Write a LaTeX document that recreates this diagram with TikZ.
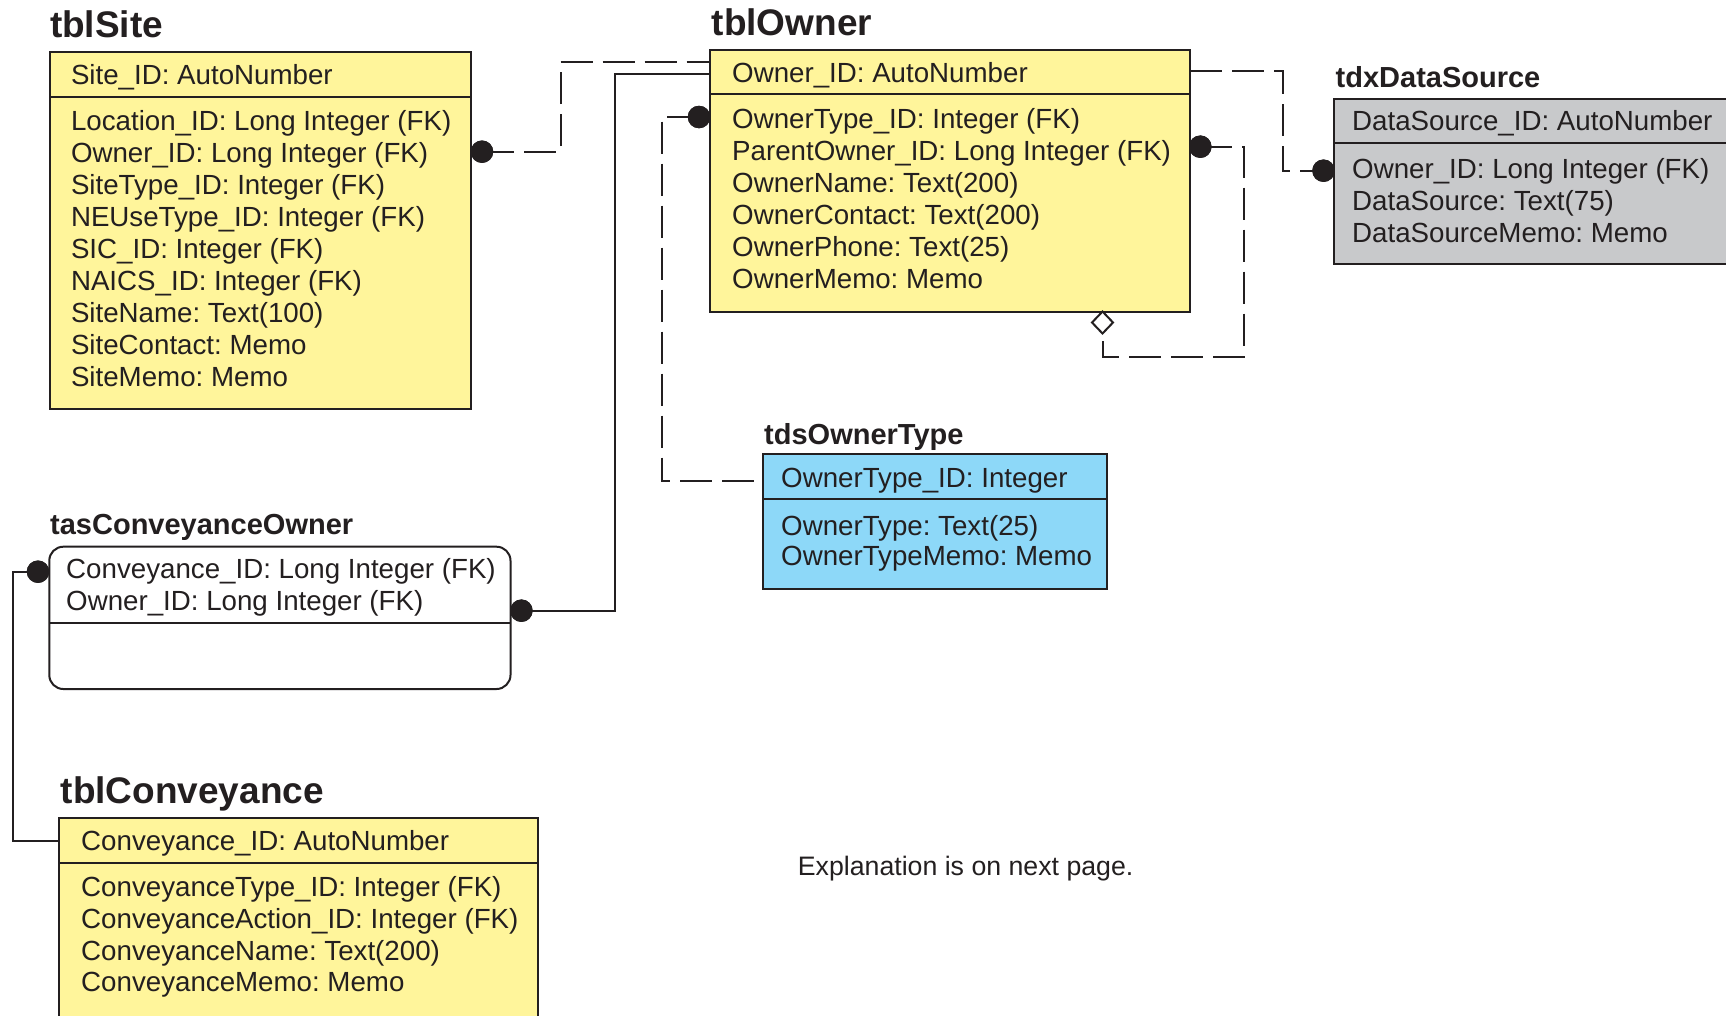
\documentclass[tikz,border=0pt]{standalone}
\usepackage{fontspec}
\setmainfont{Liberation Sans}
\usetikzlibrary{shapes.geometric}
\frenchspacing
\definecolor{ink}{HTML}{231F20}
\definecolor{yel}{HTML}{FFF59B}
\definecolor{blu}{HTML}{8DD8F8}
\definecolor{gry}{HTML}{C8C9CB}
\tikzset{
  tbl/.style={draw=ink, line width=2pt, inner sep=0pt, outer sep=0pt, anchor=north west},
  fld/.style={anchor=base west, inner sep=0pt, text=ink, font=\fontsize{27.7}{32}\selectfont},
  ttl/.style={anchor=base west, inner sep=0pt, text=ink, font=\fontsize{37}{40}\selectfont\bfseries},
  sttl/.style={anchor=base west, inner sep=0pt, text=ink, font=\fontsize{29}{32}\selectfont\bfseries},
  dot/.style={circle, fill=ink, inner sep=0pt, minimum size=22.5pt},
  link/.style={draw=ink, line width=2pt},
  dsh/.style={link, dash pattern=on 32pt off 10pt},
  dia/.style={diamond, draw=ink, fill=white, line width=2pt, inner sep=0pt, outer sep=0pt, minimum width=21pt, minimum height=22pt},
  divline/.style={draw=ink, line width=2pt},
}
\newcommand\fieldlines[5]{%
  \foreach \txt [count=\ii] in {#5} {\node[fld] (#1\ii) at (#2,{#3+(\ii-1)*#4}) {\txt};}}
\begin{document}
\begin{tikzpicture}[x=1pt,y=-1pt]
\fill[white] (0,0) rectangle (1726,1015);
\useasboundingbox (0,0) rectangle (1726,1015);
\clip (0,0) rectangle (1726,1015);

% ---------- table boxes ----------
\node[tbl, fill=yel, minimum width=421.5pt, minimum height=357.6pt] (site) at (49.5,51.7) {};
\node[tbl, fill=yel, minimum width=480pt, minimum height=261.7pt] (owner) at (710,50) {};
\node[tbl, fill=gry, minimum width=420pt, minimum height=165.5pt] (tdx) at (1334,98.5) {};
\node[tbl, fill=blu, minimum width=343.4pt, minimum height=134.7pt] (tds) at (763.3,454.3) {};
\node[tbl, fill=white, rounded corners=14pt, minimum width=461.2pt, minimum height=142.3pt] (tas) at (49.3,546.7) {};
\node[tbl, fill=yel, minimum width=478.4pt, minimum height=230pt] (conv) at (59.3,817.7) {};

% dividers
\coordinate (ysite) at (0,96.7);
\coordinate (yowner) at (0,94.3);
\coordinate (ytdx) at (0,143.3);
\coordinate (ytds) at (0,499.3);
\coordinate (ytas) at (0,622.7);
\coordinate (yconv) at (0,862.7);
\path[divline] (site.west |- ysite) -- (site.east |- ysite);
\path[divline] (owner.west |- yowner) -- (owner.east |- yowner);
\path[divline] (tdx.west |- ytdx) -- (tdx.east |- ytdx);
\path[divline] (tds.west |- ytds) -- (tds.east |- ytds);
\path[divline] (tas.west |- ytas) -- (tas.east |- ytas);
\path[divline] (conv.west |- yconv) -- (conv.east |- yconv);

% ---------- titles ----------
\node[ttl] (siteT) at (49.8,37.5) {tblSite};
\node[ttl] (ownerT) at (711.5,35.5) {tblOwner};
\node[sttl] (tdxT) at (1335.5,87) {tdxDataSource};
\node[sttl] (tdsT) at (764,444) {tdsOwnerType};
\node[sttl] (tasT) at (50,534) {tasConveyanceOwner};
\node[ttl] (convT) at (60.5,803.5) {tblConveyance};

% ---------- fields ----------
\node[fld] (siteK) at (70.8,84.5) {Site\_ID: AutoNumber};
\fieldlines{sf}{70.8}{130.7}{32}{Location\_ID: Long Integer (FK),Owner\_ID: Long Integer (FK),SiteType\_ID: Integer (FK),NEUseType\_ID: Integer (FK),SIC\_ID: Integer (FK),NAICS\_ID: Integer (FK),SiteName: Text(100),SiteContact: Memo,SiteMemo: Memo}

\node[fld] (ownerK) at (732,82) {Owner\_ID: AutoNumber};
\fieldlines{of}{732}{128.3}{32}{OwnerType\_ID: Integer (FK),ParentOwner\_ID: Long Integer (FK),OwnerName: Text(200),OwnerContact: Text(200),OwnerPhone: Text(25),OwnerMemo: Memo}

\node[fld] (tdxK) at (1352,130.7) {DataSource\_ID: AutoNumber};
\fieldlines{xf}{1352}{178}{32}{Owner\_ID: Long Integer (FK),DataSource: Text(75),DataSourceMemo: Memo}

\node[fld] (tdsK) at (781,487) {OwnerType\_ID: Integer};
\fieldlines{tf}{781}{535}{30}{OwnerType: Text(25),OwnerTypeMemo: Memo}

\fieldlines{af}{66}{578.5}{31.5}{Conveyance\_ID: Long Integer (FK),Owner\_ID: Long Integer (FK)}

\node[fld] (convK) at (81,850) {Conveyance\_ID: AutoNumber};
\fieldlines{cf}{81}{896.7}{31.7}{ConveyanceType\_ID: Integer (FK),ConveyanceAction\_ID: Integer (FK),ConveyanceName: Text(200),ConveyanceMemo: Memo}

\node[fld, font=\fontsize{26.7}{30}\selectfont] (note) at (797.7,875) {Explanation is on next page.};

% ---------- connector end marks ----------
\node[dot] (dS) at (482,151.7) {};
\node[dot] (dOT) at (699,117) {};
\node[dot] (dPO) at (1200.3,146.7) {};
\node[dot] (dDS) at (1323.5,170.7) {};
\node[dot] (dT) at (521.4,610.7) {};
\node[dot] (dCO) at (38,571.7) {};

% ---------- connectors ----------
\coordinate (k1) at (560.5,62.3);
\coordinate (k2) at (614.5,74.3);
\coordinate (k3) at (661.5,481);
\coordinate (k4) at (1243.5,356.5);
\coordinate (k5) at (1283,71);
\coordinate (k6) at (13.4,840.5);

\draw[dsh] (dS.center) -| (k1) -- (k1 -| owner.west);
\draw[link] (k2 -| owner.west) -- (k2) |- (dT.center);
\draw[dsh] (dOT.center) -| (k3) -- (k3 -| tds.west);
\draw[dsh] (k5 -| owner.east) -- (k5) |- (dDS.center);
\draw[link] (dCO.center) -| (k6) -- (k6 -| conv.west);
\node[dia] (dia) at (1102.5,322.5) {};
\draw[dsh] (dPO.center) -| (k4) -| (dia.south);

% redraw marks on top of lines
\node[dot] at (dS) {};
\node[dot] at (dOT) {};
\node[dot] at (dPO) {};
\node[dot] at (dDS) {};
\node[dot] at (dT) {};
\node[dot] at (dCO) {};
\end{tikzpicture}
\end{document}
